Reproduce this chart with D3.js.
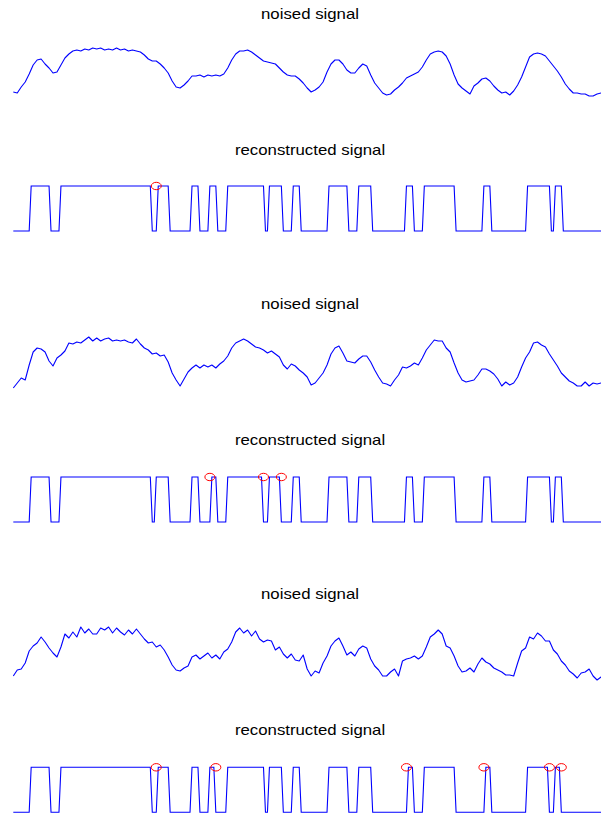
<!DOCTYPE html>
<html lang="en">
<head>
<meta charset="utf-8">
<title>noised / reconstructed signal</title>
<script src="https://cdn.jsdelivr.net/npm/d3@7/dist/d3.min.js"></script>
<style>
  body { margin: 0; background: white; }
  svg { display: block; }
  .title { font-family: "Liberation Sans", Arial, sans-serif; font-size: 14px; fill: #000; }
</style>
</head>
<body>
<div id="chart"></div>
<script>
// noised signals, read every 2nd sample (sample index = 2*k)
var noised1 = [0.08,0.06,0.18,0.28,0.44,0.62,0.72,0.74,0.64,0.56,
  0.46,0.48,0.62,0.76,0.84,0.90,0.92,0.90,0.94,0.92,
  0.96,0.94,0.96,0.92,0.94,0.92,0.96,0.92,0.94,0.90,
  0.92,0.90,0.88,0.82,0.74,0.70,0.70,0.64,0.56,0.46,
  0.30,0.18,0.16,0.22,0.30,0.40,0.40,0.42,0.38,0.42,
  0.40,0.42,0.40,0.44,0.56,0.72,0.84,0.90,0.90,0.92,
  0.88,0.82,0.76,0.70,0.68,0.66,0.64,0.56,0.48,0.42,
  0.40,0.40,0.34,0.26,0.16,0.08,0.12,0.18,0.28,0.48,
  0.64,0.72,0.72,0.64,0.52,0.46,0.46,0.56,0.64,0.60,
  0.42,0.26,0.16,0.06,0.02,0.04,0.12,0.18,0.26,0.36,
  0.40,0.44,0.48,0.58,0.72,0.84,0.88,0.90,0.88,0.80,
  0.64,0.42,0.24,0.16,0.10,0.04,0.20,0.26,0.34,0.36,
  0.30,0.20,0.12,0.06,0.08,0.02,0.10,0.22,0.38,0.58,
  0.78,0.84,0.86,0.84,0.80,0.70,0.60,0.50,0.38,0.24,
  0.14,0.06,0.06,0.04,0.04,0.00,0.00,0.04,0.06,0.08];

var noised2 = [0.00,0.10,0.20,0.16,0.46,0.72,0.80,0.78,0.72,0.54,
  0.44,0.60,0.66,0.74,0.90,0.88,0.92,0.90,0.96,1.02,
  0.94,1.00,0.94,0.98,1.00,0.94,0.96,0.94,0.96,0.92,
  0.90,0.98,0.88,0.80,0.76,0.68,0.70,0.64,0.66,0.52,
  0.30,0.16,0.04,0.18,0.32,0.40,0.46,0.40,0.46,0.42,
  0.46,0.40,0.48,0.54,0.64,0.80,0.90,0.94,0.98,0.94,
  0.88,0.82,0.80,0.76,0.70,0.74,0.68,0.62,0.46,0.38,
  0.48,0.44,0.36,0.30,0.22,0.06,0.10,0.20,0.30,0.46,
  0.68,0.80,0.84,0.70,0.54,0.52,0.50,0.58,0.64,0.64,
  0.52,0.36,0.22,0.10,0.08,0.04,0.16,0.26,0.42,0.40,
  0.44,0.50,0.46,0.60,0.76,0.86,0.96,0.94,0.94,0.80,
  0.72,0.50,0.30,0.16,0.12,0.14,0.16,0.26,0.38,0.38,
  0.34,0.28,0.18,0.04,0.12,0.06,0.10,0.22,0.42,0.60,
  0.72,0.90,0.92,0.86,0.82,0.68,0.56,0.44,0.30,0.22,
  0.14,0.10,0.04,0.04,0.12,0.04,0.10,0.08,0.10,0.08];

var noised3 = [0.04,0.16,0.18,0.30,0.54,0.64,0.70,0.82,0.72,0.60,
  0.50,0.42,0.62,0.88,0.80,0.92,0.82,1.02,0.90,0.98,
  0.88,0.88,1.00,0.96,1.02,0.90,1.00,0.92,0.86,0.96,
  0.88,0.98,0.88,0.78,0.70,0.72,0.62,0.66,0.56,0.42,
  0.26,0.16,0.14,0.20,0.24,0.42,0.46,0.38,0.44,0.50,
  0.40,0.46,0.38,0.52,0.58,0.72,0.92,1.00,0.90,0.96,
  0.84,0.94,0.78,0.72,0.76,0.74,0.56,0.62,0.48,0.40,
  0.48,0.36,0.34,0.46,0.18,0.04,0.14,0.10,0.30,0.44,
  0.64,0.74,0.80,0.64,0.46,0.52,0.44,0.58,0.64,0.60,
  0.38,0.24,0.16,0.04,0.04,0.12,0.18,0.04,0.34,0.38,
  0.40,0.44,0.38,0.44,0.62,0.82,0.88,0.96,0.88,0.64,
  0.60,0.44,0.24,0.12,0.14,0.20,0.12,0.28,0.40,0.32,
  0.28,0.20,0.16,0.12,0.06,0.06,0.04,0.30,0.54,0.60,
  0.82,0.78,0.90,0.84,0.74,0.74,0.56,0.48,0.34,0.26,
  0.14,0.08,0.00,0.10,0.12,0.18,0.04,-0.04,0.02,0.06];

// reconstructed binary signals, one digit per sample (300 samples)
var recon1 = "0000000001" + "1111111110" + "0000111111" + "1111111111" + "1111111111" +
             "1111111111" + "1111111111" + "0001111110" + "0000000000" + "1111000001" +
             "1110000011" + "1111111111" + "1111111001" + "1111110000" + "0111100000" +
             "0000000001" + "1111111110" + "0000111111" + "1000000000" + "0000000011" +
             "1100000111" + "1111111111" + "1110000000" + "0000000111" + "1000000000" +
             "0000000001" + "1111111111" + "1001111000" + "0000000000" + "0000000000";

var recon2 = "0000000001" + "1111111110" + "0000111111" + "1111111111" + "1111111111" +
             "1111111111" + "1111111111" + "0011111110" + "0000000000" + "1111000000" +
             "1110000011" + "1111111111" + "1111110001" + "1111100000" + "0111100000" +
             "0000000001" + "1111111110" + "0000111111" + "1000000000" + "0000000011" +
             "1100000111" + "1111111111" + "1110000000" + "0000000111" + "1000000000" +
             "0000000001" + "1111111111" + "1001111000" + "0000000000" + "0000000000";

var recon3 = "0000000001" + "1111111110" + "0000111111" + "1111111111" + "1111111111" +
             "1111111111" + "1111111111" + "0001111110" + "0000000000" + "1111000001" +
             "1100000011" + "1111111111" + "1111111001" + "1111110000" + "0111100000" +
             "0000000001" + "1111111110" + "0000111111" + "1000000000" + "0000000001" +
             "1100000111" + "1111111111" + "1110000000" + "0000000011" + "1000000000" +
             "0000000001" + "1111111111" + "0001110000" + "0000000000" + "0000000000";

// samples marked with a red circle
var errors1 = [72];
var errors2 = [99, 126, 135];
var errors3 = [72, 102, 198, 237, 270, 276];

var titles = ["noised signal", "reconstructed signal"];

var width = 601, height = 814;
var svg = d3.select("#chart").append("svg")
    .attr("width", width)
    .attr("height", height);

var x = d3.scaleLinear().domain([0, 299]).range([13.3, 607]);

// [y of value 0, y of value 1, title centre]
var noisedBoxes = [[96, 46, 14], [388, 338, 304], [678, 628, 594]];
var reconBoxes = [[231, 186, 150], [522, 477, 440], [812.3, 767.3, 730]];

var noisedData = [noised1, noised2, noised3];
var reconData = [recon1, recon2, recon3];
var errorData = [errors1, errors2, errors3];

// the figure is a bit wider than tall, so text is stretched sideways too
function title(txt, yc) {
  svg.append("g")
    .attr("transform", "translate(310," + yc + ") scale(1.2,1)")
    .append("text")
    .attr("class", "title")
    .attr("dy", "0.35em")
    .attr("text-anchor", "middle")
    .text(txt);
}

for (var p = 0; p < 3; p++) {
  // noised
  var nb = noisedBoxes[p];
  var yn = d3.scaleLinear().domain([0, 1]).range([nb[0], nb[1]]);
  title(titles[0], nb[2]);
  svg.append("path")
    .datum(noisedData[p])
    .attr("fill", "none")
    .attr("stroke", "#0000ff")
    .attr("stroke-width", 1.1)
    .attr("stroke-linejoin", "round")
    .attr("d", d3.line()
      .x(function(d, i) { return x(2 * i); })
      .y(function(d) { return yn(d); }));

  // reconstructed
  var rb = reconBoxes[p];
  var yr = d3.scaleLinear().domain([0, 1]).range([rb[0], rb[1]]);
  title(titles[1], rb[2]);
  var bits = reconData[p].split("").map(Number);
  svg.append("path")
    .datum(bits)
    .attr("fill", "none")
    .attr("stroke", "#0000ff")
    .attr("stroke-width", 1.1)
    .attr("d", d3.line()
      .x(function(d, i) { return x(i); })
      .y(function(d) { return yr(d); }));

  svg.selectAll(null)
    .data(errorData[p])
    .enter()
    .append("ellipse")
    .attr("cx", function(d) { return x(d); })
    .attr("cy", yr(1))
    .attr("rx", 5)
    .attr("ry", 3.7)
    .attr("fill", "none")
    .attr("stroke", "#ff0000")
    .attr("stroke-width", 1);
}
</script>
</body>
</html>
